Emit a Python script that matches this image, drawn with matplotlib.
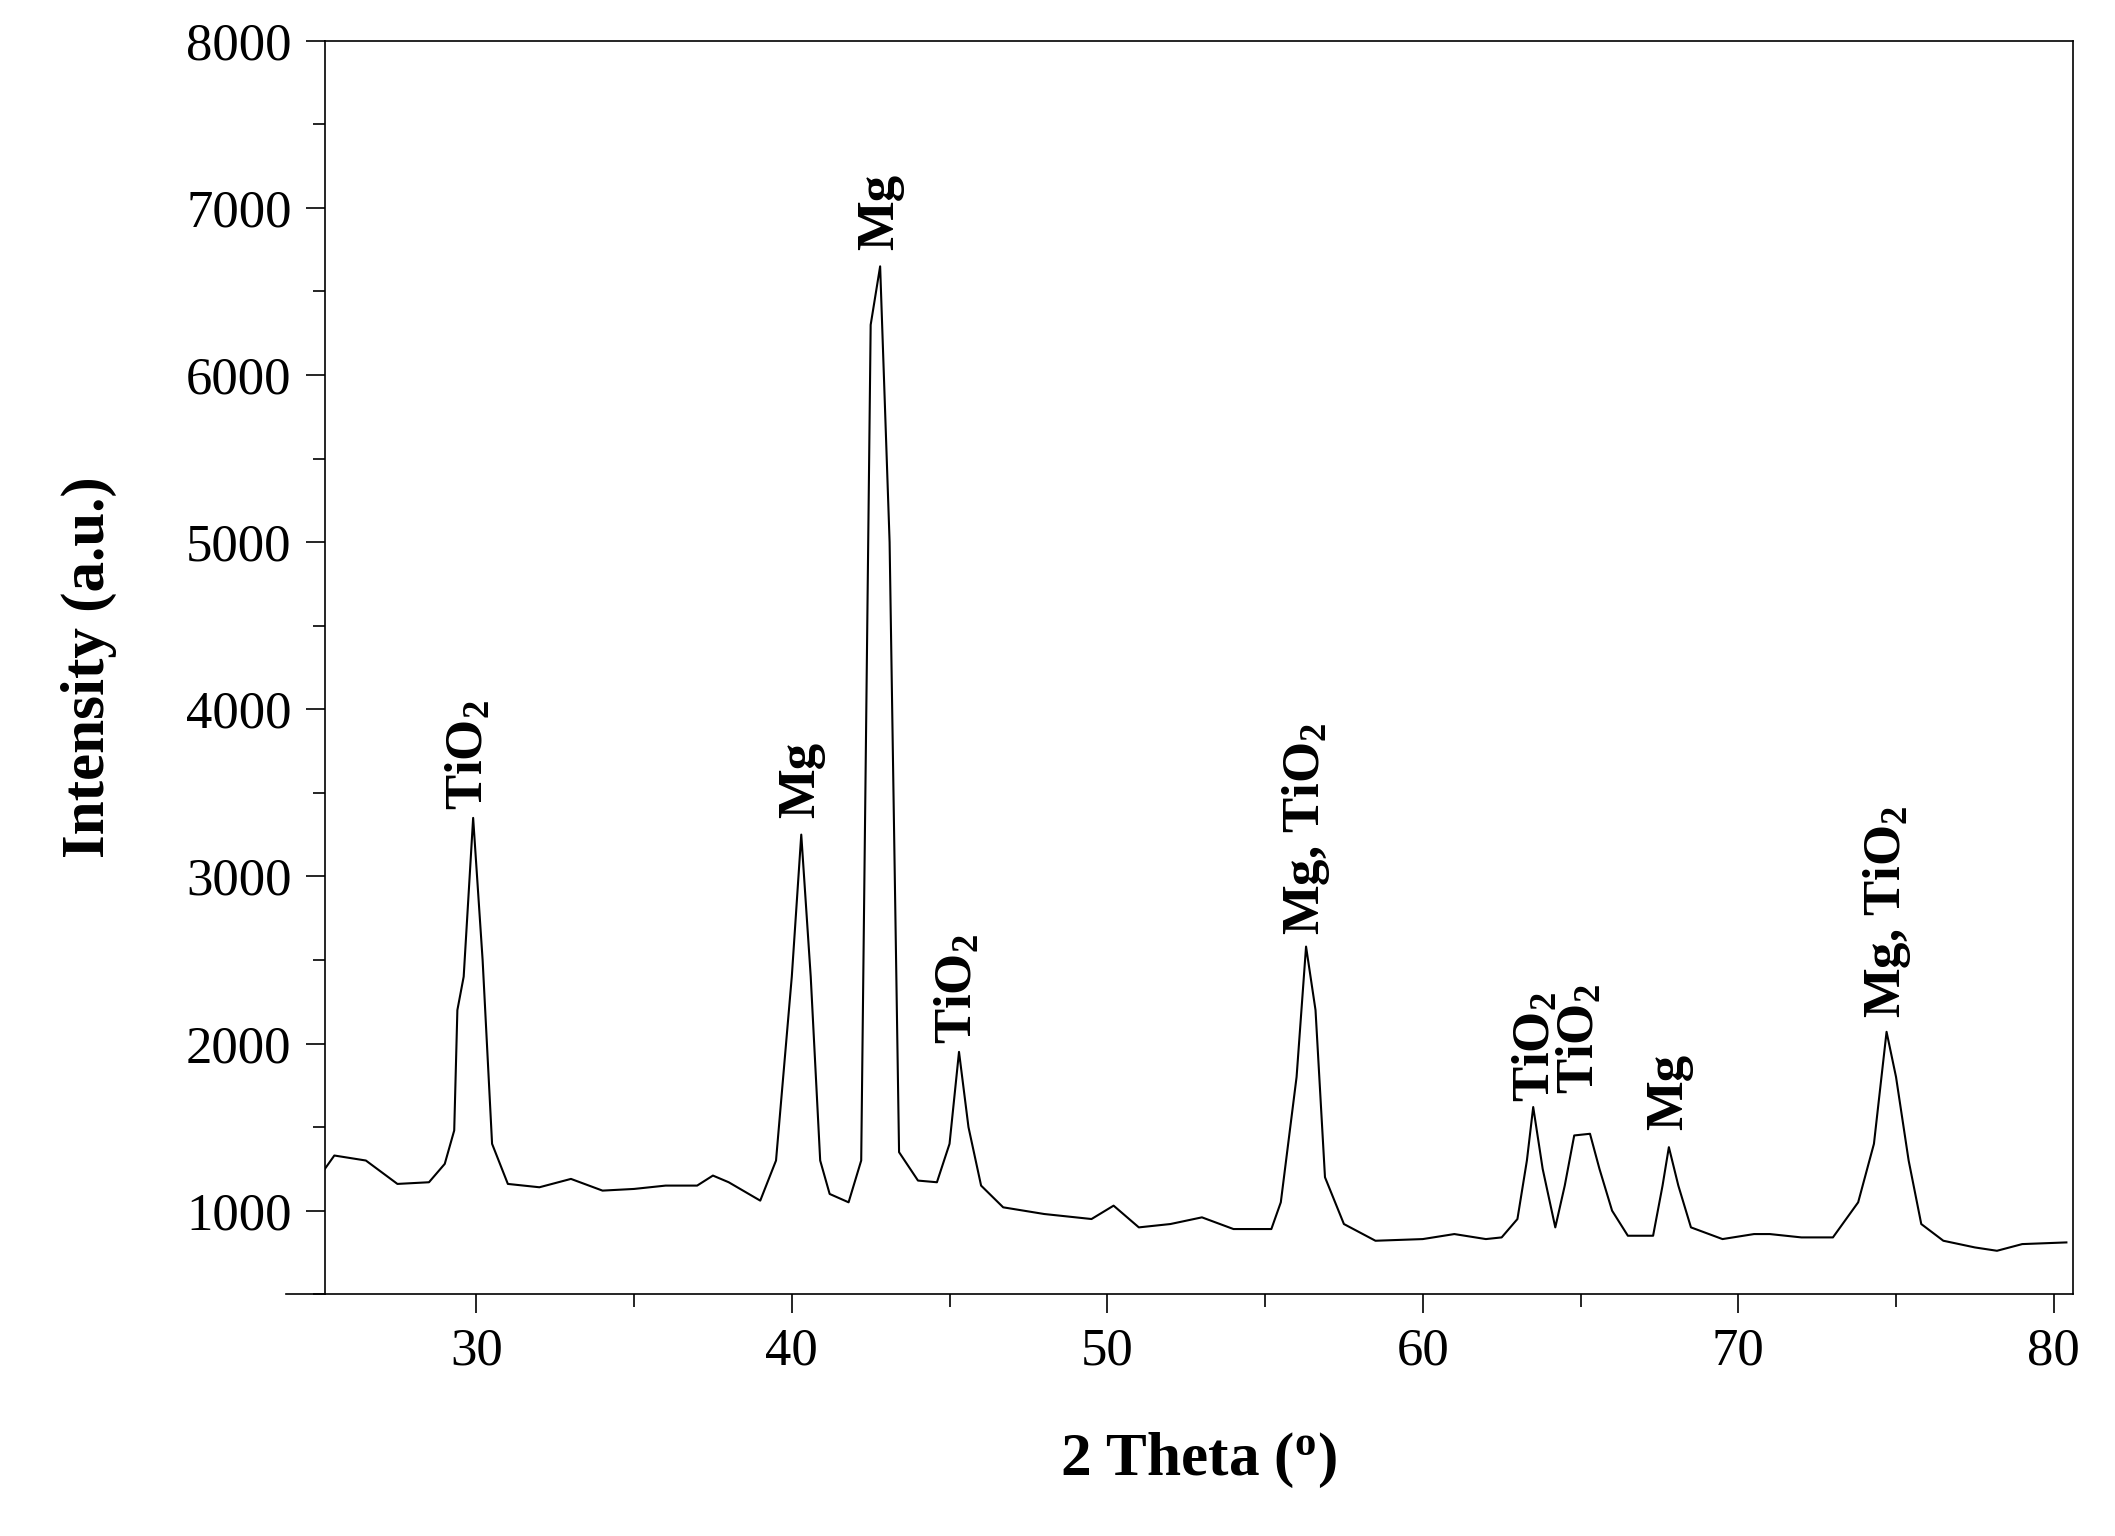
import matplotlib
matplotlib.use("Agg")
import matplotlib.pyplot as plt
from matplotlib.ticker import MultipleLocator

two_theta = [25.2,25.5,26.5,27.5,28.5,29.0,29.3,29.4,29.6,29.9,30.2,30.5,31,32,33,34,35,36,37,37.5,38,39,39.5,
             40.0,40.3,40.6,40.9,41.2,41.8,42.2,42.5,42.8,43.1,43.4,44.0,44.6,45.0,45.3,45.6,46.0,46.7,48,49.5,
             50.2,51,52,53,54,55.2,55.5,56.0,56.3,56.6,56.9,57.5,58.5,60,61,62,62.5,63,63.3,63.5,63.8,64.2,64.5,
             64.8,65.3,65.6,66,66.5,67.3,67.6,67.8,68.1,68.5,69.5,70.5,71,72,73,73.8,74.3,74.7,75.0,75.4,75.8,
             76.5,77.5,78.2,79,80.4]
intensity = [1250,1330,1300,1160,1170,1280,1480,2200,2400,3350,2500,1400,1160,1140,1190,1120,1130,1150,1150,1210,
             1170,1060,1300,2400,3250,2400,1300,1100,1050,1300,6300,6650,5000,1350,1180,1170,1400,1950,1500,1150,
             1020,980,950,1030,900,920,960,890,890,1050,1800,2580,2200,1200,920,820,830,860,830,840,950,1300,1620,
             1250,900,1150,1450,1460,1250,1000,850,850,1150,1380,1150,900,830,860,860,840,840,1050,1400,2070,1800,
             1300,920,820,780,760,800,810]

label_x = [29.8, 40.3, 42.8, 45.3, 56.3, 63.6, 65.0, 67.8, 74.7]
label_y = [3400, 3350, 6750, 2000, 2650, 1650, 1700, 1480, 2150]
label_txt = ["TiO$_2$", "Mg", "Mg", "TiO$_2$", "Mg, TiO$_2$", "TiO$_2$", "TiO$_2$", "Mg", "Mg, TiO$_2$"]

plt.rcParams['font.family'] = ['Liberation Serif', 'DejaVu Serif']
plt.rcParams['mathtext.fontset'] = 'custom'
plt.rcParams['mathtext.rm'] = 'Liberation Serif:bold'
plt.rcParams['mathtext.it'] = 'Liberation Serif:bold'

fig = plt.figure(figsize=(21.15, 15.36), dpi=100)
ax = fig.add_axes([0.1536, 0.1574, 0.980 - 0.1536, 0.9735 - 0.1574])
ax.plot(two_theta, intensity, color='black', lw=1.5)
ax.set_xlim(25.2, 80.6)
ax.set_ylim(500, 8000)
ax.xaxis.set_major_locator(MultipleLocator(10))
ax.xaxis.set_minor_locator(MultipleLocator(5))
ax.yaxis.set_major_locator(MultipleLocator(1000))
ax.yaxis.set_minor_locator(MultipleLocator(500))
ax.tick_params(which='major', length=14, width=1.2, labelsize=38, pad=10)
ax.tick_params(which='minor', length=9, width=1.2)
ax.set_yticks([1000,2000,3000,4000,5000,6000,7000,8000])
for s in ax.spines.values():
    s.set_linewidth(1.2)
ax.plot([-0.022, 0], [0, 0], transform=ax.transAxes, color='black', lw=1.2, clip_on=False)
ax.set_xlabel("2 Theta ($^{\\rm o}$)", fontsize=44, fontweight='bold', labelpad=40)
ax.set_ylabel("Intensity (a.u.)", fontsize=44, fontweight='bold', labelpad=50)
for x, y, t in zip(label_x, label_y, label_txt):
    ax.text(x, y, t, rotation=90, ha='center', va='bottom', fontsize=38, fontweight='bold')
fig.savefig("out.png", dpi=100)
